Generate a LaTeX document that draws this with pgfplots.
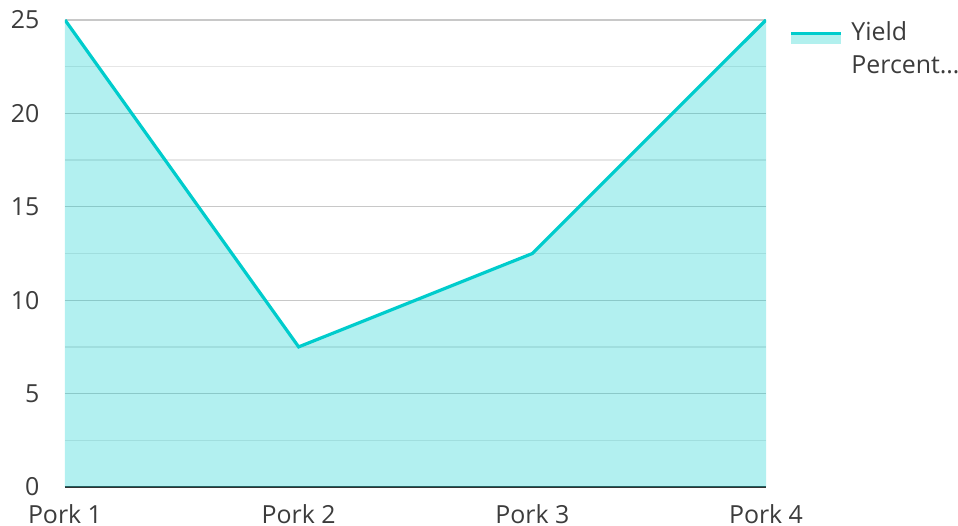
\documentclass[border=0pt]{standalone}
\usepackage{pgfplots}
\pgfplotsset{compat=1.18}
\usepackage{fontspec}
\setmainfont{Open Sans}
\definecolor{linec}{RGB}{0,204,204}
\definecolor{fillc}{RGB}{178,240,238}
\definecolor{txt}{RGB}{60,60,60}
\definecolor{majg}{RGB}{200,200,200}
\definecolor{ming}{RGB}{230,230,230}
\begin{document}
\begin{tikzpicture}
\begin{axis}[
  at={(0,0)}, anchor=south west,
  scale only axis, width=701bp, height=467bp,
  xmin=0, xmax=3, ymin=0, ymax=25,
  xtick={0,1,2,3}, xticklabels={Pork 1,Pork 2,Pork 3,Pork 4},
  ytick={0,5,10,15,20,25},
  minor ytick={2.5,7.5,12.5,17.5,22.5},
  ymajorgrids, yminorgrids,
  major grid style={color=majg, line width=1.3bp},
  minor grid style={color=ming, line width=1.3bp},
  major tick length=0pt, minor tick length=0pt,
  axis x line*=bottom, axis y line*=left,
  y axis line style={draw=none},
  x axis line style={line width=2.6bp, color=black!80, -},
  tick label style={font=\fontsize{25}{30}\selectfont, text=txt},
  /pgf/number format/assume math mode=true,
  yticklabel style={xshift=-22bp},
  xticklabel style={yshift=-14bp},
  legend style={at={(1,1)}, anchor=north west, xshift=20bp, yshift=7bp, draw=none, fill=none,
    font=\fontsize{25}{33}\selectfont, text=txt, legend cell align=left, column sep=7bp},
  legend image code/.code={
    \path[draw=none, fill=fillc] (0bp,-15bp) rectangle (50bp,-5bp);
    \path[draw=linec, line width=3.2bp] (0bp,-4bp)--(50bp,-4bp);
  },
]
\addplot[draw=none, fill=linec, fill opacity=0.3, forget plot] coordinates {(0,25) (1,7.5) (2,12.5) (3,25)} \closedcycle;
\addplot[line width=3.2bp, color=linec] coordinates {(0,25) (1,7.5) (2,12.5) (3,25)};
\addlegendentry{\begin{tabular}[t]{@{}l@{}}Yield\\Percent…\end{tabular}}
\end{axis}
\pgfresetboundingbox
\path (-65bp,-39bp) rectangle (893bp,487bp);
\end{tikzpicture}
\end{document}
